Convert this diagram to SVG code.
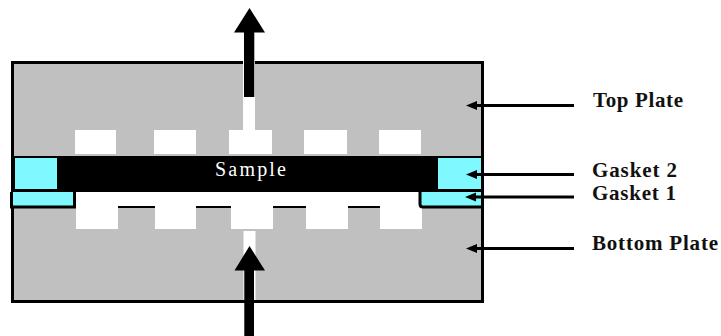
<svg xmlns="http://www.w3.org/2000/svg" width="721" height="336" viewBox="0 0 721 336">
<style>
.void{fill:#fff}
.gasket{fill:#80f8ff}
.lbl{font-family:"Liberation Serif","Times New Roman",serif;font-size:21px;font-weight:bold;fill:#111}
.lead{stroke:#000;stroke-width:3;fill:none}
.out{stroke:#000;fill:none}
</style>
<defs>
<marker id="small" markerUnits="userSpaceOnUse" markerWidth="12" markerHeight="10" refX="0" refY="5" orient="auto"><path d="M0 0.500L11 5L0 9.500Z" fill="#000"/></marker>
</defs>
<rect width="721" height="336" fill="#fff"/>
<g id="top-plate">
<rect x="12.500" y="62.500" width="470" height="239" fill="#c0c0c0" stroke="#000" stroke-width="3"/>
<rect class="void" x="75" y="130" width="41" height="24"/>
<rect class="void" x="154" y="130" width="42" height="24"/>
<rect class="void" x="229" y="130" width="43" height="24"/>
<rect class="void" x="304" y="130" width="43" height="24"/>
<rect class="void" x="379" y="130" width="42" height="24"/>
<rect class="void" x="243" y="61" width="12" height="69"/>
</g>
<g id="bottom-plate">
<rect class="void" x="76" y="192" width="343" height="14"/>
<rect class="void" x="76" y="206" width="42" height="23"/>
<rect class="void" x="155" y="206" width="41" height="23"/>
<rect class="void" x="231" y="206" width="42" height="23"/>
<rect class="void" x="306" y="206" width="42" height="23"/>
<rect class="void" x="380" y="206" width="42" height="23"/>
<rect class="void" x="243.500" y="231" width="12" height="69"/>
<path class="out" stroke-width="2" d="M118 207H155M196 207H231M273 207H306M348 207H380"/>
</g>
<g id="sample">
<rect x="14" y="156" width="467" height="36" fill="#000"/>
<text x="215" y="176" font-family="Liberation Serif, Times New Roman, serif" font-size="20" fill="#fff" textLength="71" lengthAdjust="spacing">Sample</text>
</g>
<g id="gasket-2">
<rect class="gasket" x="15" y="158" width="42" height="31"/>
<rect class="gasket" x="438" y="158" width="43" height="31"/>
</g>
<g id="gasket-1">
<path class="gasket" d="M11.500 192V207.500H75V192Z"/>
<path class="out" stroke-width="3" d="M11.500 192V207H74.500V192"/>
<path class="gasket" d="M420 192V205Q420 207 422 207H481V192Z"/>
<path class="out" stroke-width="3" d="M420 192V204Q420 207 423 207H481"/>
</g>
<g id="connectors">
<path fill="#000" d="M244 97V32.500H234L249.500 8L265 32.500H254.300V97Z"/>
<path fill="#000" d="M244.300 336V270.500H234.500L249.500 246L265 270.500H254V336Z"/>
<path class="lead" marker-end="url(#small)" d="M574 105.500H477"/>
<path class="lead" marker-end="url(#small)" d="M574 174.500H477"/>
<path class="lead" marker-end="url(#small)" d="M574 197H476"/>
<path class="lead" marker-end="url(#small)" d="M574 248.500H477"/>
</g>
<g id="labels">
<text class="lbl" x="593" y="107" textLength="90" lengthAdjust="spacing">Top Plate</text>
<text class="lbl" x="592" y="177" textLength="85" lengthAdjust="spacing">Gasket 2</text>
<text class="lbl" x="592" y="200" textLength="84" lengthAdjust="spacing">Gasket 1</text>
<text class="lbl" x="592" y="250" textLength="126" lengthAdjust="spacing">Bottom Plate</text>
</g>
</svg>
